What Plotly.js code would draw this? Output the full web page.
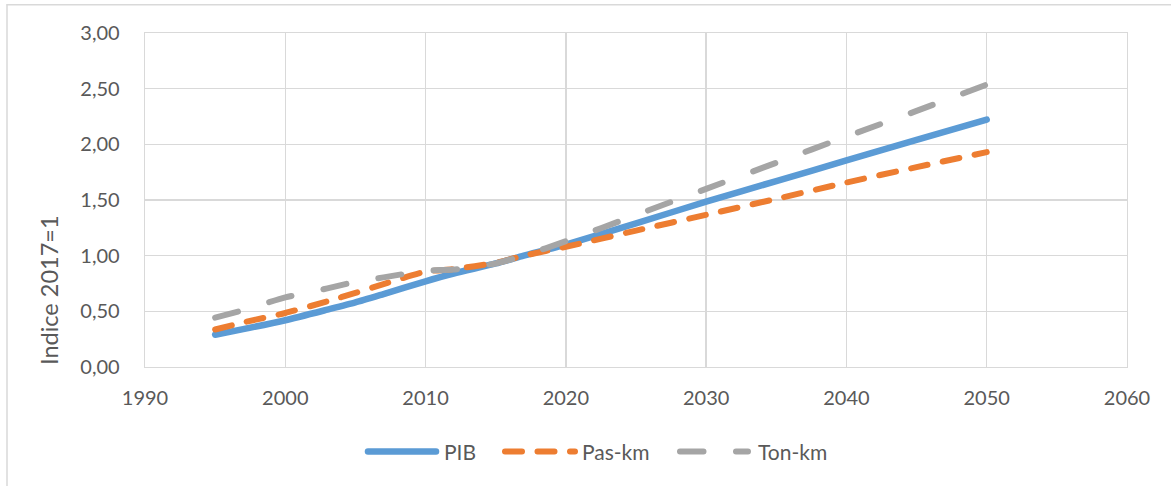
<!DOCTYPE html>
<html>
<head>
<meta charset="utf-8">
<script src="https://cdn.plot.ly/plotly-3.0.1.min.js"></script>
<style>
  html, body { margin: 0; padding: 0; background: #ffffff; }
  #chart { width: 1171px; height: 486px; }
  .js-line { stroke-linecap: round !important; }
  .shapelayer path { stroke-linecap: round !important; }
</style>
</head>
<body>
<div id="chart"></div>
<script>
// ---- data ----
const years  = [1995, 1997, 2000, 2003, 2005, 2007, 2010, 2012, 2015, 2017, 2020, 2025, 2030, 2035, 2040, 2045, 2050];
const pib    = [0.29, 0.34, 0.42, 0.515, 0.58, 0.655, 0.77, 0.84, 0.93, 1.00, 1.10, 1.29, 1.485, 1.67, 1.855, 2.04, 2.222];
const pasKm  = [0.337, 0.40, 0.485, 0.59, 0.665, 0.745, 0.856, 0.88, 0.935, 1.00, 1.08, 1.225, 1.367, 1.51, 1.657, 1.795, 1.93];
const tonKm  = [0.443, 0.51, 0.625, 0.706, 0.765, 0.805, 0.865, 0.875, 0.93, 1.00, 1.13, 1.365, 1.60, 1.835, 2.07, 2.30, 2.537];
const seriesNames = ['PIB', 'Pas-km', 'Ton-km'];
const yTitle = 'Indice 2017=1';

const colors = ['#5B9BD5', '#ED7D31', '#A5A5A5'];
const dashes = ['solid', '17px,15.5px', '23.5px,32.5px'];
const widths = [6.5, 6, 6];
const FONT = 'Lato, "Open Sans", sans-serif';
const TXT = '#595959';
const GRID = '#d9d9d9';

const values = [pib, pasKm, tonKm];
const traces = values.map((v, i) => ({
  type: 'scatter', mode: 'lines', name: seriesNames[i],
  x: years, y: v,
  line: { color: colors[i], width: widths[i], dash: dashes[i], shape: 'spline', smoothing: 0.6 },
  hoverinfo: 'skip', showlegend: false
}));

// plot area in pixels: x 145..1127, y 33..367
const L = 145, R = 1127, T = 33, B = 367;
const px = x => (x - L) / (R - L);
const py = y => (B - y) / (B - T);

const shapes = [];
const annotations = [];

// outer chart frame (partially visible)
shapes.push({ type: 'line', xref: 'paper', yref: 'paper', x0: px(7), x1: px(1175), y0: py(4.7), y1: py(4.7), line: { color: GRID, width: 1.5 } });
shapes.push({ type: 'line', xref: 'paper', yref: 'paper', x0: px(7), x1: px(7), y0: py(4.7), y1: py(492), line: { color: GRID, width: 1.5 } });

// custom legend
const legY = py(451.5);
const legItems = [
  { x0: 368, x1: 436, tx: 442 },
  { x0: 505, x1: 575, tx: 580 },
  { x0: 680, x1: 748, tx: 756 }
];
legItems.forEach((it, i) => {
  shapes.push({ type: 'line', xref: 'paper', yref: 'paper', x0: px(it.x0), x1: px(it.x1), y0: legY, y1: legY,
    line: { color: colors[i], width: widths[i], dash: dashes[i] } });
  annotations.push({ xref: 'paper', yref: 'paper', x: px(it.tx), y: legY, xanchor: 'left', yanchor: 'middle',
    text: seriesNames[i], showarrow: false, font: { family: FONT, size: 21, color: TXT } });
});

// y-axis title
annotations.push({ xref: 'paper', yref: 'paper', x: px(49), y: py(290), xanchor: 'center', yanchor: 'middle',
  text: yTitle, textangle: -90, showarrow: false, font: { family: FONT, size: 23.5, color: TXT } });

const layout = {
  width: 1171, height: 486,
  margin: { l: L, r: 1171 - R, t: T, b: 486 - B, pad: 0 },
  paper_bgcolor: '#ffffff', plot_bgcolor: '#ffffff',
  separators: ',.',
  showlegend: false,
  font: { family: FONT, size: 20, color: TXT },
  xaxis: {
    range: [1990, 2060], tick0: 1990, dtick: 10, tickformat: 'd',
    showgrid: true, gridcolor: GRID, gridwidth: 1.3,
    showline: true, linecolor: GRID, linewidth: 1.3, mirror: true,
    zeroline: false, ticks: '', ticklabelstandoff: 13,
    tickfont: { family: FONT, size: 20, color: TXT }
  },
  yaxis: {
    range: [0, 3], tick0: 0, dtick: 0.5, tickformat: '.2f',
    showgrid: true, gridcolor: GRID, gridwidth: 1.3,
    showline: true, linecolor: GRID, linewidth: 1.3, mirror: true,
    zeroline: false, ticks: '', ticklabelstandoff: 20,
    tickfont: { family: FONT, size: 20, color: TXT }
  },
  shapes: shapes,
  annotations: annotations
};

Plotly.newPlot('chart', traces, layout, { staticPlot: true, displayModeBar: false });
</script>
</body>
</html>
